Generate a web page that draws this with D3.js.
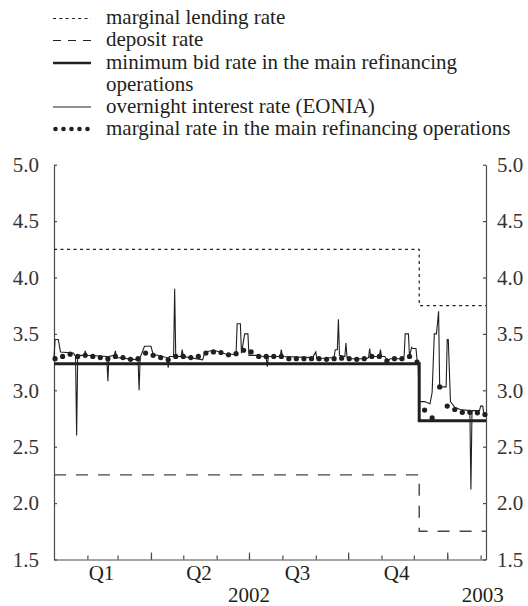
<!DOCTYPE html>
<html><head><meta charset="utf-8">
<script src="https://cdn.jsdelivr.net/npm/d3@7"></script>
<style>
body{margin:0;background:#fff}
svg{display:block}
</style>
</head><body>
<svg id="chart" width="528" height="606" font-family="Liberation Serif"></svg>
<script>
// ---------- DATA ----------
const legendLabels = [
  ["marginal lending rate"],
  ["deposit rate"],
  ["minimum bid rate in the main refinancing", "operations"],
  ["overnight interest rate (EONIA)"],
  ["marginal rate in the main refinancing operations"]
];
const yTicks = [1.5, 2.0, 2.5, 3.0, 3.5, 4.0, 4.5, 5.0];
const quarterLabels = ["Q1", "Q2", "Q3", "Q4"];
const quarterStarts = ["2002-01-01", "2002-04-01", "2002-07-01", "2002-10-01", "2003-01-01"];
const yearLabels = ["2002", "2003"];
const yearLabelDates = ["2002-07-01", "2003-02-03"];

// official rates: change dates and levels
const rateDates = ["2002-01-01", "2002-12-06", "2003-02-06"];
const marginalLending = [4.25, 3.75, 3.75];
const depositRate = [2.25, 1.75, 1.75];
const minBidRate = [3.235, 2.73, 2.73];

// EONIA (daily overnight rate)
const eoniaDates = [
  "2002-01-01","2002-01-02","2002-01-05","2002-01-07","2002-01-19","2002-01-21","2002-01-22","2002-01-23",
  "2002-01-29","2002-01-30","2002-01-31","2002-02-19","2002-02-20","2002-02-21","2002-02-26","2002-02-27",
  "2002-02-28","2002-03-20","2002-03-21","2002-03-22","2002-03-26","2002-04-01","2002-04-03","2002-04-16",
  "2002-04-17","2002-04-18","2002-04-22","2002-04-23","2002-04-24","2002-04-29","2002-04-30","2002-05-01",
  "2002-05-19","2002-05-21","2002-05-27","2002-05-31","2002-06-10","2002-06-19","2002-06-20","2002-06-23",
  "2002-06-24","2002-06-27","2002-06-30","2002-07-01","2002-07-10","2002-07-17","2002-07-18","2002-07-19",
  "2002-07-30","2002-07-31","2002-08-01","2002-08-29","2002-09-01","2002-09-02","2002-09-18","2002-09-19",
  "2002-09-21","2002-09-22","2002-09-23","2002-09-28","2002-09-29","2002-09-30","2002-10-04","2002-10-18",
  "2002-10-20","2002-10-21","2002-10-22","2002-10-24","2002-10-30","2002-10-31","2002-11-01","2002-11-04",
  "2002-11-07","2002-11-09","2002-11-21","2002-11-22","2002-11-23","2002-11-26","2002-11-27","2002-11-29",
  "2002-11-30","2002-12-03","2002-12-04","2002-12-05","2002-12-06","2002-12-11","2002-12-16","2002-12-18",
  "2002-12-20","2002-12-22","2002-12-24","2002-12-25","2002-12-31","2003-01-01","2003-01-02","2003-01-04",
  "2003-01-08","2003-01-13","2003-01-22","2003-01-23","2003-01-24","2003-01-31","2003-02-01","2003-02-03",
  "2003-02-04","2003-02-06"
];
const eoniaValues = [
  3.29,3.45,3.45,3.34,3.33,3.30,2.60,3.31,
  3.31,3.35,3.31,3.30,3.08,3.30,3.31,3.35,
  3.29,3.27,3.00,3.29,3.39,3.39,3.32,3.29,
  3.20,3.30,3.30,3.90,3.30,3.30,3.36,3.30,
  3.27,3.34,3.35,3.35,3.32,3.32,3.59,3.59,
  3.33,3.50,3.50,3.31,3.31,3.29,3.21,3.30,
  3.30,3.36,3.30,3.29,3.34,3.28,3.29,3.36,
  3.36,3.63,3.31,3.30,3.42,3.29,3.28,3.28,
  3.29,3.37,3.30,3.30,3.30,3.36,3.30,3.30,
  3.26,3.28,3.28,3.30,3.50,3.50,3.30,3.38,
  3.37,3.37,3.27,3.25,2.90,2.90,2.88,2.98,
  3.50,3.50,3.70,3.03,3.03,3.45,3.45,2.90,
  2.85,2.83,2.82,2.12,2.82,2.82,2.86,2.86,
  2.79,2.78
];

// marginal rate of weekly main refinancing operations
const mroFirstDate = "2002-01-02";
const mroValues = [
  3.28,3.30,3.32,3.30,3.31,3.30,3.29,3.28,3.30,3.29,
  3.275,3.28,3.33,3.31,3.29,3.27,3.30,3.30,3.29,3.30,
  3.33,3.34,3.335,3.315,3.325,3.355,3.34,3.30,3.30,3.30,
  3.30,3.28,3.28,3.28,3.28,3.28,3.275,3.28,3.285,3.28,
  3.275,3.28,3.30,3.30,3.26,3.28,3.28,3.30,3.25,2.825,
  2.755,3.03,2.86,2.83,2.805,2.805,2.80,2.785
];

// ---------- CHART ----------
const FONT = '"Liberation Serif", serif';
const FS = 21;
const parse = d3.timeParse("%Y-%m-%d");
const svg = d3.select("#chart");
const ink = "#231f20";
const axisInk = "#4a4a4a";

const x = d3.scaleTime().domain([parse("2002-01-01"), parse("2003-02-06")]).range([54, 486]);
const y = d3.scaleLinear().domain([1.5, 5.0]).range([559.5, 164.7]);

// axes
const fmt = d3.format(".1f");
const gL = svg.append("g").attr("transform", "translate(54,0)")
  .call(d3.axisLeft(y).tickValues(yTicks).tickFormat(fmt).tickSizeInner(-3).tickSizeOuter(0).tickPadding(15));
const gR = svg.append("g").attr("transform", "translate(486,0)")
  .call(d3.axisRight(y).tickValues(yTicks).tickFormat(fmt).tickSizeInner(-3).tickSizeOuter(0).tickPadding(11));
const months = d3.timeMonth.range(parse("2002-02-01"), parse("2003-02-06"));
const gB = svg.append("g").attr("transform", "translate(0,559.5)")
  .call(d3.axisBottom(x).tickValues(months).tickFormat("").tickSizeInner(-4).tickSizeOuter(0));
const gQ = svg.append("g").attr("transform", "translate(0,559.5)")
  .call(d3.axisBottom(x).tickValues(quarterStarts.slice(1).map(parse)).tickFormat("").tickSizeInner(-7).tickSizeOuter(0));
gQ.select(".domain").remove();
[gL, gR, gB, gQ].forEach(g => {
  g.attr("font-family", FONT).attr("font-size", FS);
  g.selectAll(".domain").attr("stroke", axisInk).attr("stroke-width", 1.2);
  g.selectAll(".tick line").attr("stroke", axisInk).attr("stroke-width", 1.2);
  g.selectAll(".tick text").attr("font-size", FS).attr("font-family", FONT).attr("fill", "#333");
});

// quarter and year labels
svg.append("g").selectAll("text").data(quarterLabels).join("text")
  .attr("x", (d, i) => (x(parse(quarterStarts[i])) + x(parse(quarterStarts[i + 1]))) / 2 - 1)
  .attr("y", 580).attr("text-anchor", "middle").attr("font-size", FS).attr("font-family", FONT)
  .attr("fill", ink).text(d => d);
svg.append("g").selectAll("text").data(yearLabels).join("text")
  .attr("x", (d, i) => x(parse(yearLabelDates[i])))
  .attr("y", 602).attr("text-anchor", "middle").attr("font-size", FS).attr("font-family", FONT)
  .attr("fill", ink).text(d => d);

// step series
const stepLine = d3.line().x(d => x(d[0])).y(d => y(d[1])).curve(d3.curveStepAfter);
const stepData = vals => rateDates.map((d, i) => [parse(d), vals[i]]);

svg.append("path").datum(stepData(marginalLending)).attr("d", stepLine)
  .attr("fill", "none").attr("stroke", ink).attr("stroke-width", 1.2).attr("stroke-dasharray", "3,3.5");
svg.append("path").datum(stepData(depositRate)).attr("d", stepLine)
  .attr("fill", "none").attr("stroke", "#444").attr("stroke-width", 1.4).attr("stroke-dasharray", "12,10");

// EONIA
const eonia = eoniaDates.map((d, i) => [parse(d), eoniaValues[i]]);
svg.append("path").datum(eonia)
  .attr("d", d3.line().x(d => x(d[0])).y(d => y(d[1])))
  .attr("fill", "none").attr("stroke", ink).attr("stroke-width", 1.1).attr("stroke-linejoin", "miter");

// minimum bid rate (thick)
svg.append("path").datum(stepData(minBidRate)).attr("d", stepLine)
  .attr("fill", "none").attr("stroke", ink).attr("stroke-width", 3);

// MRO marginal rate dots
const mro = mroValues.map((v, i) => [d3.timeWeek.offset(parse(mroFirstDate), i), v]);
svg.append("g").selectAll("circle").data(mro).join("circle")
  .attr("cx", d => x(d[0])).attr("cy", d => y(d[1])).attr("r", 2.6).attr("fill", ink);

// legend
const lg = svg.append("g");
const rowY = [24, 46, 68.5, 112.5, 134.5];
const symY = rowY.map(v => v - 5.5);
lg.append("line").attr("x1", 53).attr("x2", 91).attr("y1", symY[0]).attr("y2", symY[0])
  .attr("stroke", ink).attr("stroke-width", 1.2).attr("stroke-dasharray", "3,3.3");
lg.append("line").attr("x1", 53).attr("x2", 91).attr("y1", symY[1]).attr("y2", symY[1])
  .attr("stroke", ink).attr("stroke-width", 1.2).attr("stroke-dasharray", "8,7");
lg.append("line").attr("x1", 53).attr("x2", 91).attr("y1", symY[2]).attr("y2", symY[2])
  .attr("stroke", ink).attr("stroke-width", 2.6);
lg.append("line").attr("x1", 53).attr("x2", 91).attr("y1", symY[3]).attr("y2", symY[3])
  .attr("stroke", ink).attr("stroke-width", 1);
lg.append("g").selectAll("circle").data(d3.range(5)).join("circle")
  .attr("cx", i => 55.5 + i * 8).attr("cy", symY[4]).attr("r", 2.3).attr("fill", ink);
legendLabels.forEach((lines, i) => {
  lines.forEach((t, j) => {
    lg.append("text").attr("x", 106).attr("y", rowY[i] + j * 22).attr("font-size", FS)
      .attr("font-family", FONT).attr("fill", ink).text(t);
  });
});
</script>
</body></html>
